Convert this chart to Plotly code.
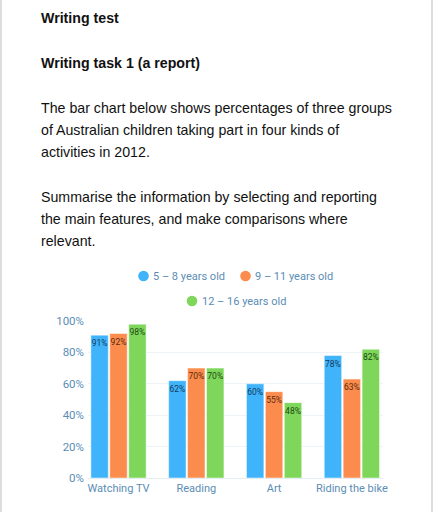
import plotly.graph_objects as go

categories = ["Watching TV", "Reading", "Art", "Riding the bike"]
series_names = ["5 – 8 years old", "9 – 11 years old", "12 – 16 years old"]
age_5_8 = [91, 62, 60, 78]
age_9_11 = [92, 70, 55, 63]
age_12_16 = [98, 70, 48, 82]
y_ticks = [0, 20, 40, 60, 80, 100]
y_tick_labels = ["0%", "20%", "40%", "60%", "80%", "100%"]

heading1 = "Writing test"
heading2 = "Writing task 1 (a report)"
para1 = ["The bar chart below shows percentages of three groups",
         "of Australian children taking part in four kinds of",
         "activities in 2012."]
para2 = ["Summarise the information by selecting and reporting",
         "the main features, and make comparisons where",
         "relevant."]

colors = ["#3fb4fa", "#fb8c4d", "#7ed75a"]
text_colors = ["#123a5e", "#5c2a0c", "#1d4a12"]
series = [age_5_8, age_9_11, age_12_16]

W, H = 433, 512
L, R, T, B = 88, 50, 321, 34
PW = W - L - R
PH = H - T - B


def px(x):
    return (x - L) / PW


def py(y):
    return (H - B - y) / PH


fig = go.Figure()
for name, vals, c, tc in zip(series_names, series, colors, text_colors):
    fig.add_trace(go.Bar(
        x=categories, y=vals, name=name, showlegend=False,
        marker=dict(color=c, line=dict(color="rgba(255,255,255,0.6)", width=0.8)),
        text=[f"{v}%" for v in vals], textposition="inside",
        insidetextanchor="end", textangle=0,
        textfont=dict(size=8.5, color=tc, family="Roboto"),
        hoverinfo="skip",
    ))

ann = []
ann.append(dict(text=f"<b>{heading1}</b>", x=px(39), y=py(18)))
ann.append(dict(text=f"<b>{heading2}</b>", x=px(39), y=py(63)))
for i, line in enumerate(para1):
    ann.append(dict(text=line, x=px(39), y=py(108 + 22 * i)))
for i, line in enumerate(para2):
    ann.append(dict(text=line, x=px(39), y=py(197 + 22 * i)))
annotations = [dict(a, xref="paper", yref="paper", xanchor="left", yanchor="middle",
                    showarrow=False, font=dict(size=14.2, color="#111111",
                                               family="Liberation Sans, Arial"))
               for a in ann]

# legend drawn as circles + labels
legend_pos = [(143.5, 276), (245.5, 276), (192, 301)]
shapes = []
for (cx, cy), name, c in zip(legend_pos, series_names, colors):
    r = 5.3
    shapes.append(dict(type="circle", xref="paper", yref="paper",
                       x0=px(cx - r), x1=px(cx + r), y0=py(cy + r), y1=py(cy - r),
                       fillcolor=c, line=dict(width=0)))
    annotations.append(dict(text=name, x=px(cx + 7.5), y=py(cy), xref="paper", yref="paper",
                            xanchor="left", yanchor="middle", showarrow=False,
                            font=dict(size=11, color="#5b8db5", family="Roboto")))

shapes += [
    dict(type="line", xref="paper", yref="paper", x0=px(1), x1=px(1), y0=py(0), y1=py(512),
         line=dict(color="#dddddd", width=2)),
    dict(type="line", xref="paper", yref="paper", x0=px(432), x1=px(432), y0=py(0), y1=py(512),
         line=dict(color="#dddddd", width=2)),
]

fig.update_layout(
    width=W, height=H,
    margin=dict(l=L, r=R, t=T, b=B),
    paper_bgcolor="white", plot_bgcolor="white",
    barmode="group", bargap=0.27, bargroupgap=0.08,
    uniformtext=dict(minsize=8.5, mode="show"),
    showlegend=False,
    annotations=annotations,
    shapes=shapes,
    xaxis=dict(range=[-0.392, 3.40], showgrid=False, showline=True, linecolor="#e6edf2",
               tickfont=dict(size=11, color="#5b8db5", family="Roboto"), ticks=""),
    yaxis=dict(range=[0, 100], tickvals=y_ticks, ticktext=y_tick_labels,
               showgrid=True, gridcolor="#eef3f7", zeroline=False,
               tickfont=dict(size=11.5, color="#5b8db5", family="Roboto"),
               ticks="", ticklabelstandoff=3),
)

fig.write_html("out.html", config={"displayModeBar": False},
               post_script="document.body.style.margin='0';")
